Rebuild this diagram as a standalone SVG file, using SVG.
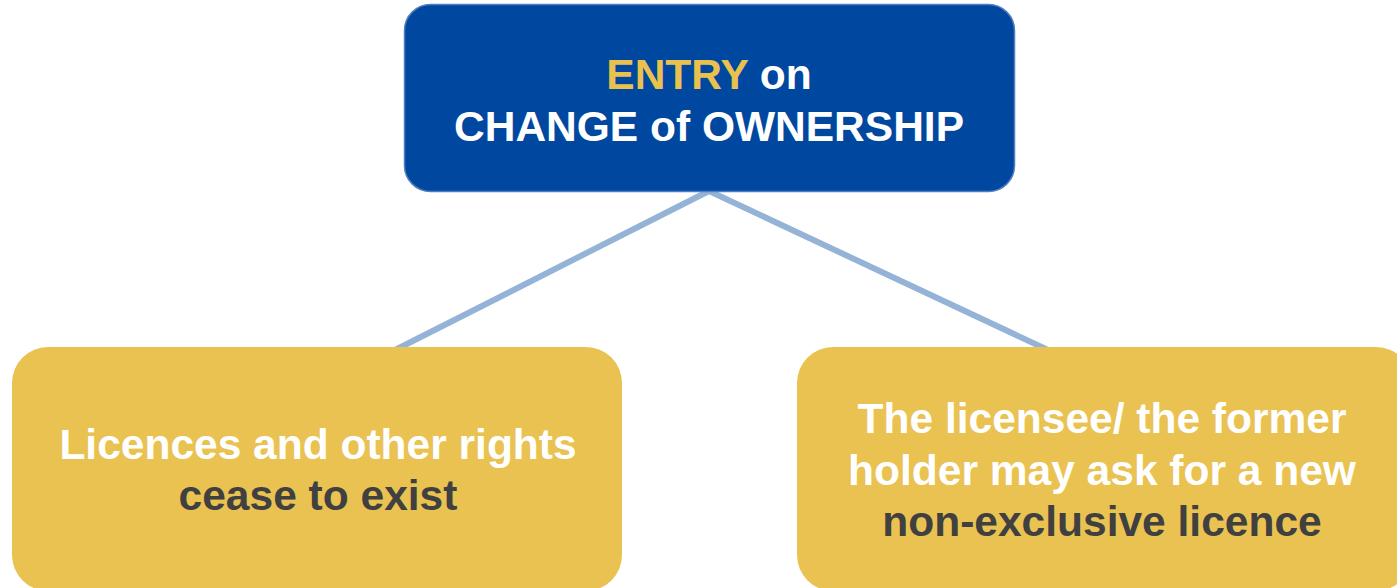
<svg xmlns="http://www.w3.org/2000/svg" width="1397" height="588" viewBox="0 0 1397 588">
<style>
text{font-family:"Liberation Sans",Arial,sans-serif;font-weight:bold;text-anchor:middle;font-size:42.5px}
.w{fill:#FFFFFF}
.d{fill:#404040}
.y{fill:#E9C14F}
.gold{fill:#E9C252}
</style>
<rect width="1397" height="588" fill="#FFFFFF"/>
<g id="connectors" stroke="#95B3D7" stroke-width="6" fill="none">
<line x1="709" y1="191" x2="395" y2="350"/>
<line x1="709" y1="191" x2="1048" y2="350"/>
</g>
<g id="top">
<rect x="404.5" y="4.5" width="610" height="187" rx="26" fill="#0047A0" stroke="#4F7FC0" stroke-width="1.5"/>
<text x="709" y="89"><tspan class="y">ENTRY</tspan><tspan class="w"> on</tspan></text>
<text class="w" x="709" y="141">CHANGE of OWNERSHIP</text>
</g>
<g id="left">
<rect class="gold" x="12" y="347" width="610" height="244" rx="36"/>
<text class="w" x="318" y="459">Licences and other rights</text>
<text class="d" x="318" y="510">cease to exist</text>
</g>
<g id="right">
<rect class="gold" x="797" y="347" width="615" height="244" rx="36"/>
<text class="w" x="1102" y="433">The licensee/ the former</text>
<text class="w" x="1102" y="485">holder may ask for a new</text>
<text class="d" x="1102" y="536">non-exclusive licence</text>
</g>
</svg>
